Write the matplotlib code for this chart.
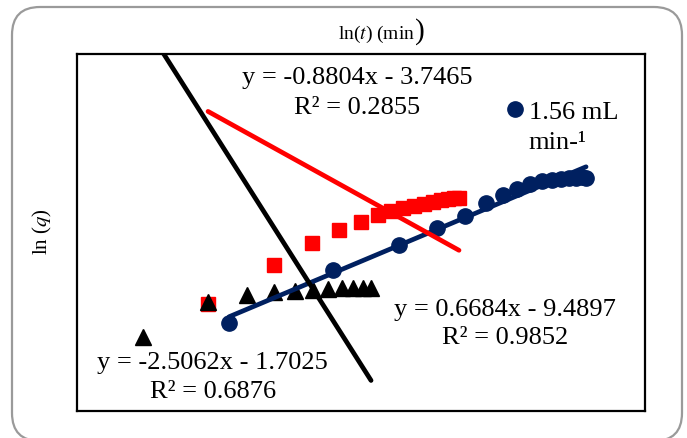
import numpy as np
import matplotlib
matplotlib.use("Agg")
import matplotlib.pyplot as plt
from matplotlib.patches import FancyBboxPatch

plt.rcParams['font.family'] = ['Liberation Serif', 'DejaVu Serif']
plt.rcParams['mathtext.fontset'] = 'stix'

# blue series (1.56 mL min-1)
x_blue = [1.606, 2.704, 3.401, 3.803, 4.098, 4.320, 4.500, 4.648, 4.785, 4.912,
          5.017, 5.113, 5.197, 5.271, 5.334, 5.377]
y_blue = [-8.521, -7.630, -7.210, -6.924, -6.723, -6.504, -6.370, -6.269, -6.185,
          -6.134, -6.118, -6.101, -6.084, -6.084, -6.067, -6.084]

# red series
x_red = [1.384, 2.081, 2.482, 2.768, 3.000, 3.179, 3.317, 3.444, 3.560, 3.665,
         3.760, 3.845, 3.919, 3.982, 4.035]
y_red = [-8.202, -7.546, -7.176, -6.958, -6.824, -6.706, -6.639, -6.588, -6.555,
         -6.521, -6.487, -6.454, -6.437, -6.420, -6.420]

# black series
x_black = [0.697, 1.384, 1.796, 2.081, 2.303, 2.493, 2.651, 2.799, 2.915, 3.021, 3.106]
y_black = [-8.756, -8.168, -8.050, -8.000, -7.983, -7.966, -7.950, -7.933, -7.933,
           -7.933, -7.933]

# trendlines as printed on the chart (slope, intercept)
fit_blue = [0.6684, -9.4897]
fit_red = [-0.8804, -3.7465]
fit_black = [-2.5062, -1.7025]

navy = '#002060'

fig = plt.figure(figsize=(6.87, 4.39), dpi=100)

# outer rounded frame
frame = FancyBboxPatch((0.12, -0.03), 6.70, 4.34,
                       boxstyle="round,pad=0,rounding_size=0.28",
                       transform=fig.dpi_scale_trans, fill=False,
                       edgecolor='#9a9a9a', linewidth=1.6)
fig.patches.append(frame)

ax = fig.add_axes([0.1121, 0.0615, 0.8268, 0.8132])

blue = ax.plot(x_blue, y_blue, 'o', color=navy, markersize=11, zorder=3)[0]
ax.plot(x_red, y_red, 's', color='#ff0000', markersize=10.5, zorder=3)
ax.plot(x_black, y_black, '^', color='black', markersize=11, zorder=3)

for xs, fit, c in [(x_blue, fit_blue, navy), (x_red, fit_red, '#ff0000'),
                   (x_black, fit_black, 'black')]:
    xx = np.array([min(xs), max(xs)])
    ax.plot(xx, np.polyval(fit, xx), '-', color=c, linewidth=3.4,
            solid_capstyle='round', zorder=4)

ax.set_xlim(0, 6)
ax.set_ylim(-10, -4)
ax.set_xticks([])
ax.set_yticks([])
for s in ax.spines.values():
    s.set_linewidth(1.6)
    s.set_color('black')

fs = 19
ax.text(0.493, 0.936, 'y = -0.8804x - 3.7465', transform=ax.transAxes,
        ha='center', va='center', fontsize=fs)
ax.text(0.493, 0.852, 'R² = 0.2855', transform=ax.transAxes,
        ha='center', va='center', fontsize=fs)
ax.text(0.754, 0.286, 'y = 0.6684x - 9.4897', transform=ax.transAxes,
        ha='center', va='center', fontsize=fs)
ax.text(0.754, 0.207, 'R² = 0.9852', transform=ax.transAxes,
        ha='center', va='center', fontsize=fs)
ax.text(0.238, 0.137, 'y = -2.5062x - 1.7025', transform=ax.transAxes,
        ha='center', va='center', fontsize=fs)
ax.text(0.239, 0.056, 'R² = 0.6876', transform=ax.transAxes,
        ha='center', va='center', fontsize=fs)

ax.legend([blue], ['1.56 mL'], loc='center left', bbox_to_anchor=(0.757, 0.84),
          frameon=False, fontsize=fs, handlelength=0.6, handletextpad=0.25,
          borderpad=0, borderaxespad=0)
ax.text(0.794, 0.754, 'min-¹', transform=ax.transAxes, ha='left', va='center',
        fontsize=fs)

# axis titles
fig.text(415 / 687, 1 - 34 / 439, r'ln($t$) (min', ha='right', va='center', fontsize=14)
fig.text(415 / 687, 1 - 32 / 439, ')', ha='left', va='center', fontsize=21)
fig.text(42 / 687, 1 - 232 / 439, r'ln ($q$)', ha='center', va='center',
         rotation=90, fontsize=15)

fig.savefig('out.png', dpi=100)
